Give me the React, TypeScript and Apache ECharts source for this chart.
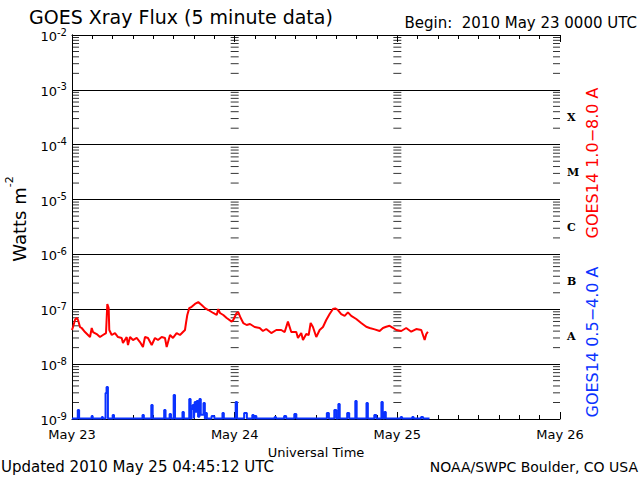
import { useEffect, useRef } from 'react';
import * as echarts from 'echarts';

// x values are hours since 2010 May 23 00:00 UTC
const dayLabels = ['May 23', 'May 24', 'May 25', 'May 26'];
const dayBoundaries = [24, 48];
const decadeExponents = [-9, -8, -7, -6, -5, -4, -3];
const minorMultipliers = [2, 3, 4, 5, 6, 7, 8, 9];
const flareClassByLevel: Record<string, string> = { '-7.5': 'A', '-6.5': 'B', '-5.5': 'C', '-4.5': 'M', '-3.5': 'X' };

// GOES14 1.0-8.0 A (long channel), [hour, W/m^2]
const longChannel: [number, number][] = [
  [0, 4.2e-8], [0.15, 4.75e-8], [0.44, 6.4e-8], [0.69, 7.0e-8], [0.89, 6.4e-8], [1.18, 4.75e-8], [1.43, 4.56e-8], [1.92, 3.85e-8], [2.36, 3.4e-8], [2.66, 3.12e-8],
  [2.91, 4.56e-8], [3.10, 3.85e-8], [3.64, 3.54e-8], [4.13, 3.12e-8], [4.57, 3.4e-8], [5.02, 3.69e-8], [5.21, 1.25e-7], [5.41, 1.05e-7], [5.50, 4.19e-8], [5.86, 3.4e-8],
  [6.34, 3.69e-8], [6.79, 3.12e-8], [7.33, 3.0e-8], [7.52, 2.43e-8], [8.07, 3.12e-8], [8.26, 2.23e-8], [8.56, 3.12e-8], [9.00, 2.75e-8], [9.54, 3.0e-8], [10.03, 2.53e-8],
  [10.47, 2.05e-8], [10.77, 3.12e-8], [11.21, 3.0e-8], [11.76, 2.23e-8], [12.24, 3.0e-8], [12.69, 2.75e-8], [13.23, 3.12e-8], [13.72, 3.0e-8], [13.97, 2.05e-8], [14.46, 3.4e-8],
  [14.90, 3.0e-8], [15.44, 3.69e-8], [15.93, 3.4e-8], [16.37, 3.85e-8], [16.67, 4.19e-8], [16.82, 5.62e-8], [17.01, 7.87e-8], [17.30, 1.05e-7], [17.66, 1.11e-7], [18.14, 1.25e-7],
  [18.63, 1.35e-7], [19.13, 1.2e-7], [19.62, 1.05e-7], [20.11, 9.7e-8], [20.84, 8.56e-8], [21.35, 7.87e-8], [21.58, 1.01e-7], [21.83, 8.56e-8], [22.32, 7.87e-8], [22.82, 6.93e-8],
  [23.56, 5.95e-8], [23.79, 6.38e-8], [24.29, 8.56e-8], [24.53, 8.92e-8], [24.89, 6.93e-8], [25.27, 5.62e-8], [25.77, 5.17e-8], [26.26, 5.39e-8], [26.95, 4.75e-8], [27.69, 4.56e-8],
  [28.17, 4.02e-8], [28.66, 4.37e-8], [29.40, 3.69e-8], [30.14, 4.19e-8], [30.87, 4.19e-8], [31.38, 3.85e-8], [31.86, 5.95e-8], [32.35, 3.85e-8], [33.09, 3.85e-8], [33.34, 3.0e-8],
  [33.82, 3.69e-8], [34.08, 2.75e-8], [34.56, 3.54e-8], [34.92, 3.4e-8], [35.21, 5.62e-8], [35.55, 4.75e-8], [36.04, 3.12e-8], [36.54, 4.19e-8], [37.03, 4.75e-8], [37.51, 6.38e-8],
  [38.01, 8.2e-8], [38.50, 1.01e-7], [38.84, 1.04e-7], [39.24, 9.7e-8], [39.72, 8.2e-8], [40.23, 7.6e-8], [40.71, 8.8e-8], [41.20, 7.6e-8], [41.94, 6.65e-8], [42.67, 5.62e-8],
  [43.41, 4.8e-8], [43.91, 4.56e-8], [44.65, 4.3e-8], [45.39, 4.02e-8], [45.88, 4.56e-8], [46.36, 4.8e-8], [46.86, 5.0e-8], [47.35, 4.6e-8], [47.84, 4.19e-8], [48.58, 4.02e-8],
  [49.31, 4.56e-8], [50.05, 3.9e-8], [50.79, 4.37e-8], [51.53, 4.19e-8], [52.03, 2.75e-8], [52.26, 3.5e-8], [52.51, 3.9e-8],
];

// GOES14 0.5-4.0 A (short channel), [hour, W/m^2], held until next point
const shortChannel: [number, number][] = [
  [0, 1.02e-9], [0.85, 1.46e-9], [1.05, 1.02e-9], [2.9, 1.13e-9], [3.05, 1.02e-9], [4.4, 1.09e-9], [4.55, 1.02e-9],
  [4.95, 2.98e-9], [5.1, 3.83e-9], [5.3, 1.02e-9], [6.0, 1.18e-9], [6.2, 1.02e-9], [10.4, 1.18e-9], [10.6, 1.02e-9],
  [11.7, 1.8e-9], [11.9, 1.02e-9], [13.6, 1.46e-9], [13.8, 1.02e-9], [14.4, 1.23e-9], [14.6, 1.02e-9], [15.0, 2.74e-9],
  [15.2, 1.02e-9], [16.3, 1.34e-9], [16.5, 1.02e-9], [17.3, 2.32e-9], [17.5, 1.02e-9], [17.65, 1.52e-9], [17.8, 1.8e-9],
  [18.0, 1.02e-9], [18.1, 2.04e-9], [18.3, 1.3e-9], [18.4, 2.13e-9], [18.6, 1.1e-9], [18.8, 2.32e-9], [19.0, 1.2e-9],
  [19.4, 1.96e-9], [19.6, 1.02e-9], [19.75, 1.29e-9], [19.9, 1.02e-9], [20.6, 1.13e-9], [21.0, 1.02e-9], [22.2, 1.29e-9],
  [22.4, 1.02e-9], [24.15, 2.04e-9], [24.35, 1.02e-9], [25.4, 1.29e-9], [25.8, 1.02e-9], [26.6, 1.18e-9], [26.8, 1.02e-9],
  [27.0, 1.13e-9], [27.2, 1.02e-9], [29.9, 1.09e-9], [30.1, 1.02e-9], [31.3, 1.13e-9], [31.6, 1.02e-9], [32.8, 1.23e-9],
  [33.1, 1.02e-9], [37.6, 1.29e-9], [37.9, 1.02e-9], [38.7, 1.46e-9], [39.0, 1.02e-9], [39.3, 1.88e-9], [39.5, 1.02e-9],
  [40.6, 1.29e-9], [40.9, 1.02e-9], [41.8, 2.13e-9], [42.0, 1.02e-9], [43.45, 1.96e-9], [43.65, 1.02e-9], [44.6, 1.18e-9],
  [44.9, 1.02e-9], [45.65, 2.04e-9], [45.85, 1.02e-9], [46.1, 1.34e-9], [46.3, 1.02e-9], [48.5, 1.09e-9], [48.7, 1.02e-9],
  [50.2, 1.09e-9], [50.4, 1.02e-9], [51.5, 1.09e-9], [51.8, 1.02e-9], [52.75, 1.02e-9],
];

const RED = '#ff0000';
const BLUE = '#0a32ff';
const FONT = 'DejaVu Sans';

function minorTickValues(): number[] {
  const out: number[] = [];
  for (const e of decadeExponents) for (const m of minorMultipliers) out.push(m * Math.pow(10, e));
  return out;
}

export default function App() {
  const ref = useRef<HTMLDivElement>(null);
  useEffect(() => {
    if (!ref.current) return;
    const chart = echarts.init(ref.current, undefined, { renderer: 'svg' });
    const minors = minorTickValues();
    const tickSeries = (x: number, offset: number, w: number) => ({
      type: 'scatter',
      data: minors.map((v) => [x, v]),
      symbol: 'rect',
      symbolSize: [w, 1],
      symbolOffset: [offset, 0],
      itemStyle: { color: '#000' },
      clip: false,
      silent: true,
      z: 3,
    });
    chart.setOption({
      animation: false,
      backgroundColor: '#fff',
      grid: { left: 72, right: 80, top: 35, bottom: 61, containLabel: false },
      xAxis: [
        {
          type: 'value', min: 0, max: 72, interval: 24, position: 'bottom',
          axisLine: { show: true, lineStyle: { color: '#000', width: 1 } },
          axisTick: { show: true, inside: true, length: 7, lineStyle: { color: '#000' } },
          minorTick: { show: true, splitNumber: 8, length: 4, lineStyle: { color: '#000' } },
          splitLine: { show: false },
          axisLabel: { formatter: (v: number) => dayLabels[Math.round(v / 24)] ?? '', color: '#000', fontFamily: FONT, fontSize: 13, margin: 9 },
          name: 'Universal Time', nameLocation: 'middle', nameGap: 25,
          nameTextStyle: { color: '#000', fontFamily: FONT, fontSize: 13 },
        },
        {
          type: 'value', min: 0, max: 72, interval: 24, position: 'top',
          axisLine: { show: true, lineStyle: { color: '#000', width: 1 } },
          axisTick: { show: true, inside: true, length: 7, lineStyle: { color: '#000' } },
          minorTick: { show: true, splitNumber: 8, length: 4, lineStyle: { color: '#000' } },
          splitLine: { show: false },
          axisLabel: { show: false },
        },
      ],
      yAxis: [
        {
          type: 'log', logBase: 10, min: 1e-9, max: 1e-2, splitNumber: 7, position: 'left',
          axisLine: { show: true, lineStyle: { color: '#000', width: 1 } },
          axisTick: { show: false },
          splitLine: { show: true, lineStyle: { color: '#000', width: 1 } },
          axisLabel: {
            margin: 5,
            formatter: (v: number) => `{a|10}{b|${Math.round(Math.log10(v))}}`,
            rich: {
              a: { fontFamily: FONT, fontSize: 13, color: '#000', lineHeight: 16, verticalAlign: 'bottom' },
              b: { fontFamily: FONT, fontSize: 10, color: '#000', lineHeight: 16, verticalAlign: 'top' },
            },
          },
        },
        {
          type: 'value', min: -9, max: -2, interval: 0.5, position: 'right',
          axisLine: { show: true, lineStyle: { color: '#000', width: 1 } },
          axisTick: { show: false },
          splitLine: { show: false },
          axisLabel: {
            margin: 7,
            formatter: (v: number) => flareClassByLevel[String(v)] ?? '',
            fontFamily: 'DejaVu Serif', fontWeight: 'bold', fontSize: 11, color: '#000',
          },
        },
      ],
      series: [
        {
          type: 'line', name: 'GOES14 1.0-8.0 A', data: longChannel, xAxisIndex: 0, yAxisIndex: 0,
          showSymbol: false, symbol: 'none', lineStyle: { color: RED, width: 2 }, z: 5,
        },
        {
          type: 'line', name: 'GOES14 0.5-4.0 A', data: shortChannel, xAxisIndex: 0, yAxisIndex: 0, step: 'end',
          showSymbol: false, symbol: 'none', lineStyle: { color: BLUE, width: 2 }, z: 5,
        },
        tickSeries(0, 3.5, 7),
        tickSeries(72, -3.5, 7),
        ...dayBoundaries.map((d) => tickSeries(d, 0, 8)),
      ],
      graphic: [
        { type: 'text', left: 29, top: 7, style: { text: 'GOES Xray Flux (5 minute data)', fontFamily: FONT, fontSize: 19, fill: '#000' } },
        { type: 'text', right: 3, top: 15, style: { text: 'Begin:  2010 May 23 0000 UTC', fontFamily: FONT, fontSize: 15, fill: '#000' } },
        { type: 'text', left: 1, top: 459, style: { text: 'Updated 2010 May 25 04:45:12 UTC', fontFamily: FONT, fontSize: 15, fill: '#000' } },
        { type: 'text', right: 2, top: 460, style: { text: 'NOAA/SWPC Boulder, CO USA', fontFamily: FONT, fontSize: 14, fill: '#000' } },
        {
          type: 'text', x: 16, y: 219, rotation: Math.PI / 2,
          style: {
            text: '{a|Watts m}{b|-2}', align: 'center', verticalAlign: 'middle',
            rich: {
              a: { fontFamily: FONT, fontSize: 18, fill: '#000', lineHeight: 24, verticalAlign: 'bottom' },
              b: { fontFamily: FONT, fontSize: 11, fill: '#000', lineHeight: 24, verticalAlign: 'top' },
            },
          },
        },
        {
          type: 'text', x: 592, y: 163, rotation: Math.PI / 2,
          style: { text: 'GOES14 1.0\u22128.0 A', align: 'center', verticalAlign: 'middle', fontFamily: FONT, fontSize: 16, fill: RED },
        },
        {
          type: 'text', x: 592, y: 342, rotation: Math.PI / 2,
          style: { text: 'GOES14 0.5\u22124.0 A', align: 'center', verticalAlign: 'middle', fontFamily: FONT, fontSize: 16, fill: BLUE },
        },
      ],
    });
    return () => chart.dispose();
  }, []);
  return <div ref={ref} style={{ position: 'fixed', left: 0, top: 0, width: 640, height: 480, background: '#fff' }} />;
}
